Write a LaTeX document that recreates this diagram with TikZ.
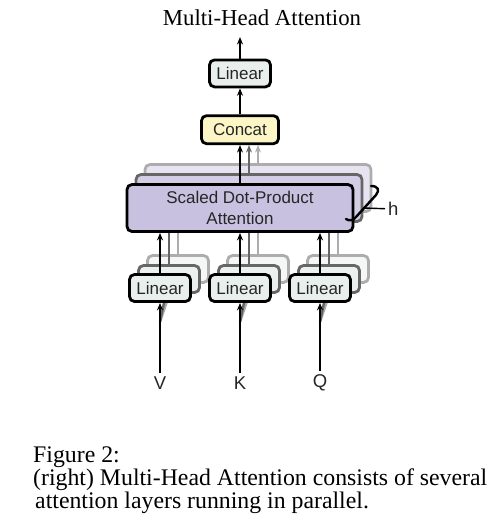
\documentclass[tikz,border=0pt]{standalone}
\usepackage{fontspec}
\setmainfont{Liberation Serif}
\setsansfont{Liberation Sans}
\usetikzlibrary{arrows.meta, positioning, backgrounds}
\definecolor{linfill}{HTML}{E9EFEC}
\definecolor{catfill}{HTML}{FCF5C6}
\definecolor{attfill}{HTML}{C9C1E0}

\begin{document}
\begin{tikzpicture}[
		x=1pt, y=-1pt,
		node distance=26pt,
		every node/.style={font=\sffamily\fontsize{17}{20.5}\selectfont, text=black!85},
		box/.style={draw, rounded corners=5pt, line width=2.8pt, inner sep=0pt},
		lin/.style={box, fill=linfill, minimum width=61pt, minimum height=27pt},
		cat/.style={box, fill=catfill, minimum width=77pt, minimum height=28pt},
		att/.style={box, fill=attfill, minimum width=226pt, minimum height=47pt, align=center},
		lin1/.style={lin, draw=black!60, fill=linfill!85},
		lin2/.style={lin, draw=black!32, fill=linfill!50},
		att1/.style={att, draw=black!60, fill=attfill!80},
		att2/.style={att, draw=black!32, fill=attfill!45},
		captext/.style={font=\rmfamily\fontsize{23.8}{21}\selectfont, text=black, inner sep=0pt},
		inlabel/.style={font=\sffamily\fontsize{18.5}{20}\selectfont},
		arr/.style={-{Stealth[length=7.5pt, width=6pt]}, line width=2.4pt, black},
		arr1/.style={arr, black!60},
		arr2/.style={arr, black!32}
		]
		\useasboundingbox (0,0) rectangle (491,523);
		% Diagram drawing
		\node[att] at (240,208) (attn) {Scaled Dot-Product\\Attention};
		\node[cat, above = 38pt of attn] (concat) {Concat};
		\node[lin, above = of concat] (lout) {Linear};
		
		\node[lin] at (160,288) (lv) {Linear};
		\node[lin] at (240,288) (lk) {Linear};
		\node[lin] at (320,288) (lq) {Linear};
		
		\node[inlabel] at (160,383) (V) {V};
		\node[inlabel] at (240,383) (K) {K};
		\node[inlabel] at (320,383) (Q) {Q};
		
		\coordinate (out) at (240,37);
		\coordinate (vin) at (160,322);
		\coordinate (kin) at (240,322);
		\coordinate (qin) at (320,322);
		
		% Denote
		\node[captext, font=\rmfamily\fontsize{22.8}{27}\selectfont, anchor=base] at (262,25) (mha) {Multi-Head Attention};
		\node[captext, anchor=base west, align=left] at (33,508) (fig) {Figure 2:\\(right) Multi-Head Attention consists of several\\\hspace{2pt}attention layers running in parallel.};
		\node[inlabel, anchor=west, inner sep=3pt] at (385,209) (h) {h};
		\coordinate (hb) at (364,208);
		
		% parallel heads behind
		\begin{scope}[on background layer]
		\node[att2, xshift=18pt, yshift=20pt] at (attn) (attn2) {};
		\node[lin2, xshift=18pt, yshift=19pt] at (lv) (lv2) {};
		\node[lin2, xshift=18pt, yshift=19pt] at (lk) (lk2) {};
		\node[lin2, xshift=18pt, yshift=19pt] at (lq) (lq2) {};
		\draw[arr2] (vin) -- (lv2);
		\draw[arr2] (kin) -- (lk2);
		\draw[arr2] (qin) -- (lq2);
		\draw[arr2] (lv2) -- (lv2 |- attn2.south);
		\draw[arr2] (lk2) -- (lk2 |- attn2.south);
		\draw[arr2] (lq2) -- (lq2 |- attn2.south);
		\draw[arr2] (attn2) -- (attn2 |- concat.south);
		
		\node[att1, xshift=9pt, yshift=10pt] at (attn) (attn1) {};
		\node[lin1, xshift=9pt, yshift=9pt] at (lv) (lv1) {};
		\node[lin1, xshift=9pt, yshift=9pt] at (lk) (lk1) {};
		\node[lin1, xshift=9pt, yshift=9pt] at (lq) (lq1) {};
		\draw[arr1] (vin) -- (lv1);
		\draw[arr1] (kin) -- (lk1);
		\draw[arr1] (qin) -- (lq1);
		\draw[arr1] (lv1) -- (lv1 |- attn1.south);
		\draw[arr1] (lk1) -- (lk1 |- attn1.south);
		\draw[arr1] (lq1) -- (lq1 |- attn1.south);
		\draw[arr1] (attn1) -- (attn1 |- concat.south);
		\end{scope}
		
		% draw arrows
		\draw[arr] (V) -- (lv);
		\draw[arr] (K) -- (lk);
		\draw[arr] (Q) -- (lq);
		\draw[arr] (lv) -- (lv |- attn.south);
		\draw[arr] (lk) -- (lk |- attn.south);
		\draw[arr] (lq) -- (lq |- attn.south);
		\draw[arr] (attn) -- (concat);
		\draw[arr] (concat) -- (lout);
		\draw[arr] (lout) -- (out);
		
		% h bracket
		\draw[line width=2.4pt, line cap=round] (371,186) .. controls (378,186) and (380,190) .. (376,195) -- (356,217) .. controls (353,221) and (349,221) .. (346,219);
		\draw[line width=1.4pt] (hb) -- (h);
	\end{tikzpicture}
\end{document}
